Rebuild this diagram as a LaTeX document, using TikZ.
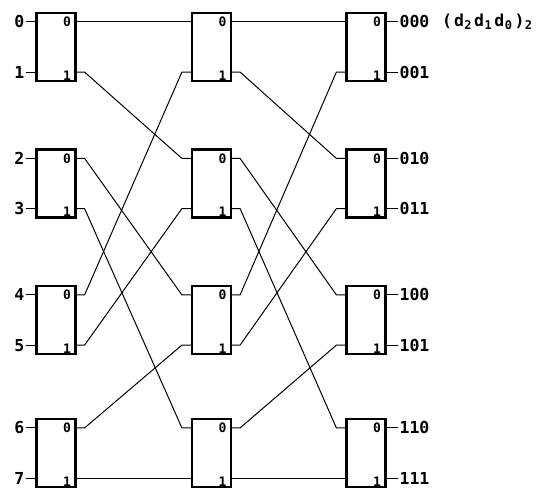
\documentclass[tikz,border=0pt]{standalone}
\usepackage{fontspec}
\setmainfont{DejaVu Sans Mono}
\usetikzlibrary{positioning}
\newcommand{\sub}[1]{\kern0.5pt\textsubscript{\fontsize{12}{12}\selectfont #1}\kern2pt}
\tikzset{
  switch/.style={
    draw, line width=2.2pt,
    minimum width=39pt, minimum height=68pt,
    label={[port, inner ysep=5pt]north east:0},
    label={[port, anchor=south east, inner ysep=1.5pt]south east:1}
  },
  port/.style={anchor=north east, inner xsep=5.5pt, font=\fontsize{13}{13}\selectfont\bfseries},
  wire/.style={line width=1pt},
  pin/.style={inner sep=1.5pt, font=\fontsize{16.5}{16.5}\selectfont\bfseries}
}

\begin{document}
\begin{tikzpicture}
        \useasboundingbox (0,0) rectangle (548pt,-489pt);
        % first stage
        \node [switch] (A0) at (56pt,-47pt) {};
        \node [switch, on grid, below=136.5pt of A0] (A1) {};
        \node [switch, on grid, below=136.5pt of A1] (A2) {};
        \node [switch, on grid, below=133pt of A2] (A3) {};
        % second stage
        \node [switch, on grid, right=155.5pt of A0] (B0) {};
        \node [switch, on grid, right=155.5pt of A1] (B1) {};
        \node [switch, on grid, right=155.5pt of A2] (B2) {};
        \node [switch, on grid, right=155.5pt of A3] (B3) {};
        % third stage
        \node [switch, on grid, right=154.5pt of B0] (C0) {};
        \node [switch, on grid, right=154.5pt of B1] (C1) {};
        \node [switch, on grid, right=154.5pt of B2] (C2) {};
        \node [switch, on grid, right=154.5pt of B3] (C3) {};
        % inputs
        \draw [wire] ([yshift=-10pt]A0.north west) to ++(-9pt,0) node [pin, left] (in0) {0};
        \draw [wire] ([yshift=10pt]A0.south west) to ++(-9pt,0) node [pin, left] (in1) {1};
        \draw [wire] ([yshift=-10pt]A1.north west) to ++(-9pt,0) node [pin, left] (in2) {2};
        \draw [wire] ([yshift=10pt]A1.south west) to ++(-9pt,0) node [pin, left] (in3) {3};
        \draw [wire] ([yshift=-10pt]A2.north west) to ++(-9pt,0) node [pin, left] (in4) {4};
        \draw [wire] ([yshift=10pt]A2.south west) to ++(-9pt,0) node [pin, left] (in5) {5};
        \draw [wire] ([yshift=-10pt]A3.north west) to ++(-9pt,0) node [pin, left] (in6) {6};
        \draw [wire] ([yshift=10pt]A3.south west) to ++(-9pt,0) node [pin, left] (in7) {7};
        % shuffle between A and B
        \draw [wire] ([yshift=-10pt]A0.north east) to ([yshift=-10pt]B0.north west);
        \draw [wire] ([yshift=10pt]A0.south east) to ++(8pt,0) to ([xshift=-9pt,yshift=-10pt]B1.north west) to ++(9pt,0);
        \draw [wire] ([yshift=-10pt]A1.north east) to ++(8pt,0) to ([xshift=-9pt,yshift=-10pt]B2.north west) to ++(9pt,0);
        \draw [wire] ([yshift=10pt]A1.south east) to ++(8pt,0) to ([xshift=-9pt,yshift=-10pt]B3.north west) to ++(9pt,0);
        \draw [wire] ([yshift=-10pt]A2.north east) to ++(8pt,0) to ([xshift=-9pt,yshift=10pt]B0.south west) to ++(9pt,0);
        \draw [wire] ([yshift=10pt]A2.south east) to ++(8pt,0) to ([xshift=-9pt,yshift=10pt]B1.south west) to ++(9pt,0);
        \draw [wire] ([yshift=-10pt]A3.north east) to ++(8pt,0) to ([xshift=-9pt,yshift=10pt]B2.south west) to ++(9pt,0);
        \draw [wire] ([yshift=10pt]A3.south east) to ([yshift=10pt]B3.south west);
        % shuffle between B and C
        \draw [wire] ([yshift=-10pt]B0.north east) to ([yshift=-10pt]C0.north west);
        \draw [wire] ([yshift=10pt]B0.south east) to ++(8pt,0) to ([xshift=-9pt,yshift=-10pt]C1.north west) to ++(9pt,0);
        \draw [wire] ([yshift=-10pt]B1.north east) to ++(8pt,0) to ([xshift=-9pt,yshift=-10pt]C2.north west) to ++(9pt,0);
        \draw [wire] ([yshift=10pt]B1.south east) to ++(8pt,0) to ([xshift=-9pt,yshift=-10pt]C3.north west) to ++(9pt,0);
        \draw [wire] ([yshift=-10pt]B2.north east) to ++(8pt,0) to ([xshift=-9pt,yshift=10pt]C0.south west) to ++(9pt,0);
        \draw [wire] ([yshift=10pt]B2.south east) to ++(8pt,0) to ([xshift=-9pt,yshift=10pt]C1.south west) to ++(9pt,0);
        \draw [wire] ([yshift=-10pt]B3.north east) to ++(8pt,0) to ([xshift=-9pt,yshift=10pt]C2.south west) to ++(9pt,0);
        \draw [wire] ([yshift=10pt]B3.south east) to ([yshift=10pt]C3.south west);
        % outputs
        \draw [wire] ([yshift=-10pt]C0.north east) to ++(11pt,0) node [pin, right] (out0) {000};
        \draw [wire] ([yshift=10pt]C0.south east) to ++(11pt,0) node [pin, right] (out1) {001};
        \draw [wire] ([yshift=-10pt]C1.north east) to ++(11pt,0) node [pin, right] (out2) {010};
        \draw [wire] ([yshift=10pt]C1.south east) to ++(11pt,0) node [pin, right] (out3) {011};
        \draw [wire] ([yshift=-10pt]C2.north east) to ++(11pt,0) node [pin, right] (out4) {100};
        \draw [wire] ([yshift=10pt]C2.south east) to ++(11pt,0) node [pin, right] (out5) {101};
        \draw [wire] ([yshift=-10pt]C3.north east) to ++(11pt,0) node [pin, right] (out6) {110};
        \draw [wire] ([yshift=10pt]C3.south east) to ++(11pt,0) node [pin, right] (out7) {111};
        \node [pin, right=9pt of out0] (code) {(\kern2pt d\sub{2}d\sub{1}d\sub{0})\sub{2}};
      \end{tikzpicture}
\end{document}
